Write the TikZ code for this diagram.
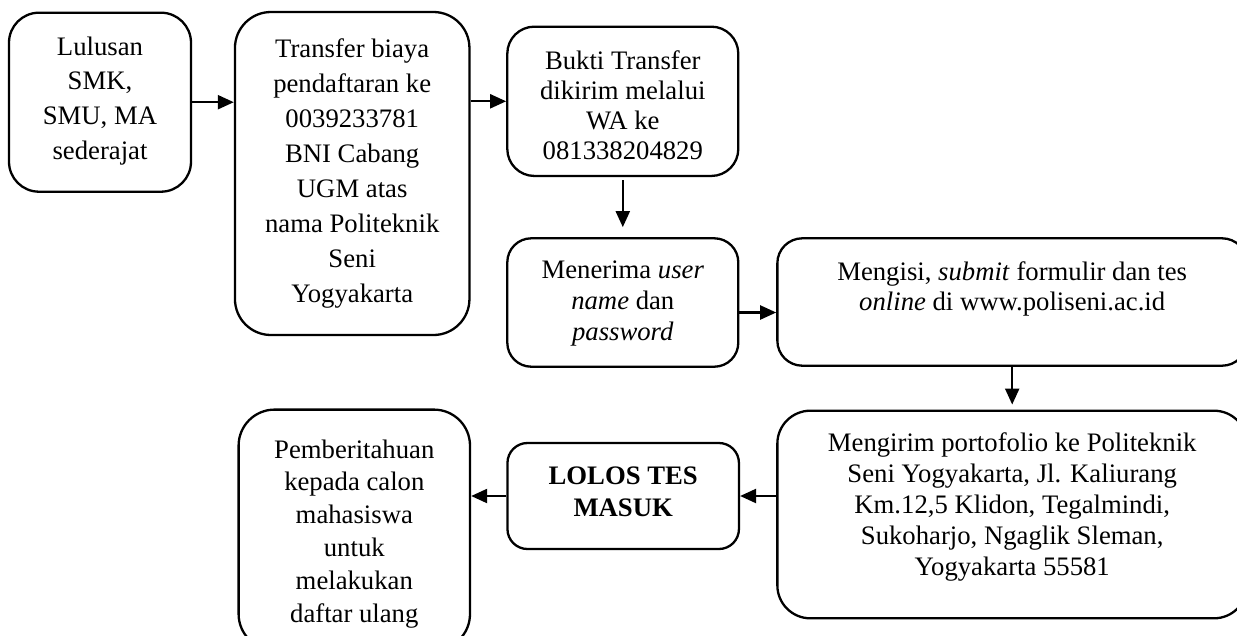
\documentclass[tikz,border=0pt]{standalone}
\usepackage{fontspec}
\setmainfont{Liberation Serif}
\usetikzlibrary{arrows.meta}
\newcommand\mltext[2]{\fontsize{26.7}{#1}\selectfont\begin{tabular}[t]{@{}c@{}}#2\end{tabular}}
\begin{document}
\begin{tikzpicture}[x=1pt,y=-1pt,
  box/.style={draw, line width=2.3pt, fill=white, inner sep=0pt},
  txt/.style={anchor=base, inner sep=0pt},
  arr/.style={line width=2.2pt, -{Triangle[length=16pt,width=14pt]}}]
\useasboundingbox (0,0) rectangle (1237,635);
% boxes
\node[box, rounded corners=30pt, minimum width=182pt, minimum height=179pt] (b1) at (100,102.2) {};
\node[box, rounded corners=36pt, minimum width=234.5pt, minimum height=323pt] (b2) at (352.2,173.5) {};
\node[box, rounded corners=27pt, minimum width=231pt, minimum height=149.3pt] (b3) at (622.8,101.3) {};
\node[box, rounded corners=24pt, minimum width=231pt, minimum height=128.4pt] (b4) at (622.8,302.5) {};
\node[box, rounded corners=25pt, minimum width=469.7pt, minimum height=127.4pt] (b5) at (1012.2,302) {};
\node[box, rounded corners=33pt, minimum width=469.7pt, minimum height=207.6pt] (b6) at (1012.2,514.5) {};
\node[box, rounded corners=20pt, minimum width=231.5pt, minimum height=106pt] (b7) at (623.2,496) {};
\node[box, rounded corners=36pt, minimum width=231.4pt, minimum height=240.4pt] (b8) at (354.3,529.8) {};
% texts
\node[txt] (t1) at (100,55) {\mltext{34.7}{Lulusan\\SMK,\\SMU, MA\\sederajat}};
\node[txt] (t2) at (352.2,57) {\mltext{35}{Transfer biaya\\pendaftaran ke\\0039233781\\BNI Cabang\\UGM atas\\nama Politeknik\\Seni\\Yogyakarta}};
\node[txt] (t3) at (622.8,69) {\mltext{30}{Bukti Transfer\\dikirim melalui\\WA ke\\081338204829}};
\node[txt] (t4) at (622.8,278) {\mltext{31}{Menerima \textit{user}\\\textit{name} dan\\\textit{password}}};
\node[txt] (t5) at (1012.2,280) {\mltext{30}{Mengisi, \textit{submit} formulir dan tes\\\textit{online} di www.poliseni.ac.id}};
\node[txt] (t6) at (1012.2,451.7) {\mltext{31}{Mengirim portofolio ke Politeknik\\Seni Yogyakarta, Jl. Kaliurang\\Km.12,5 Klidon, Tegalmindi,\\Sukoharjo, Ngaglik Sleman,\\Yogyakarta 55581}};
\node[txt] (t7) at (623.2,484.6) {\mltext{32}{\textbf{LOLOS TES}\\\textbf{MASUK}}};
\node[txt] (t8) at (354.3,458) {\mltext{32.8}{Pemberitahuan\\kepada calon\\mahasiswa\\untuk\\melakukan\\daftar ulang}};
% connectors
\draw[arr] (b1.east) -- (b1.east -| b2.west);
\draw[arr] (b2.east |- b3.west) -- (b3.west);
\draw[arr, shorten <=3pt, shorten >=10pt] (b3.south) -- (b4.north);
\draw[arr] ([yshift=-10pt]b4.east) -- ([yshift=-10pt]b4.east -| b5.west);
\draw[arr, shorten >=5pt] (b5.south) -- (b6.north);
\draw[arr] (b6.west |- b7.east) -- (b7.east);
\draw[arr] (b7.west) -- (b7.west -| b8.east);
\end{tikzpicture}
\end{document}
